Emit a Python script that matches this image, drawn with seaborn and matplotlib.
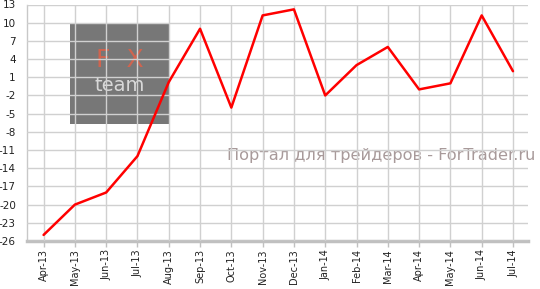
import matplotlib
matplotlib.use("Agg")
import matplotlib.pyplot as plt
import seaborn as sns
import pandas as pd
from matplotlib.patches import Rectangle

months = ["Apr-13", "May-13", "Jun-13", "Jul-13", "Aug-13", "Sep-13", "Oct-13", "Nov-13",
          "Dec-13", "Jan-14", "Feb-14", "Mar-14", "Apr-14", "May-14", "Jun-14", "Jul-14"]
values = [-25, -20, -18, -12, 0.2, 9, -4, 11.2, 12.2, -2, 3, 6, -1, 0, 11.2, 2]
yticks = [13, 10, 7, 4, 1, -2, -5, -8, -11, -14, -17, -20, -23, -26]

sns.set_theme(style="white")
plt.rcParams['font.family'] = ['DejaVu Sans']

df = pd.DataFrame({"x": range(len(months)), "v": values})

fig = plt.figure(figsize=(5.4, 2.89), dpi=100)
ax = fig.add_axes([27/540, 1 - 241/289, (528 - 27)/540, (241 - 4.5)/289])

sns.lineplot(data=df, x="x", y="v", color="#ff0000", linewidth=1.8, ax=ax, zorder=5)

ax.set_xlim(-0.53, 15.48)
ax.set_ylim(-26, 13)
ax.set_yticks(yticks)
ax.set_yticklabels([str(t).replace("\u2212", "-") for t in yticks], fontsize=7.5, color="#222222")
ax.set_xticks(range(len(months)))
ax.set_xticklabels(months, rotation=90, fontsize=7, color="#222222")
ax.set_xlabel("")
ax.set_ylabel("")

ax.grid(True, color="#d0d0d0", linewidth=1, zorder=1)
ax.set_axisbelow(False)
for sp in ["top", "right"]:
    ax.spines[sp].set_visible(False)
ax.spines["left"].set_color("#c8c8c8")
ax.spines["left"].set_linewidth(1)
ax.spines["bottom"].set_color("#c0c0c0")
ax.spines["bottom"].set_linewidth(2.5)
ax.tick_params(axis="x", which="both", bottom=True, length=4, color="#c0c0c0", width=1, pad=2)
ax.tick_params(axis="y", left=False, pad=2)

# logo box
ax.add_patch(Rectangle((0.83, -6.75), 3.17, 16.55, facecolor="#777777", edgecolor="none", zorder=0.5))
ax.text(2.43, 3.9, "F  X", color="#d0644f", fontsize=18, ha="center", va="center",
        fontweight="normal", zorder=0.8)
ax.text(2.43, -0.4, "team", color="#d8d8d8", fontsize=14, ha="center", va="center", zorder=0.8)

ax.text(15.72, -11.9, "Портал для трейдеров - ForTrader.ru", color="#a89a9a", fontsize=11.6,
        ha="right", va="center", zorder=2)

fig.savefig("out.png", dpi=100)
